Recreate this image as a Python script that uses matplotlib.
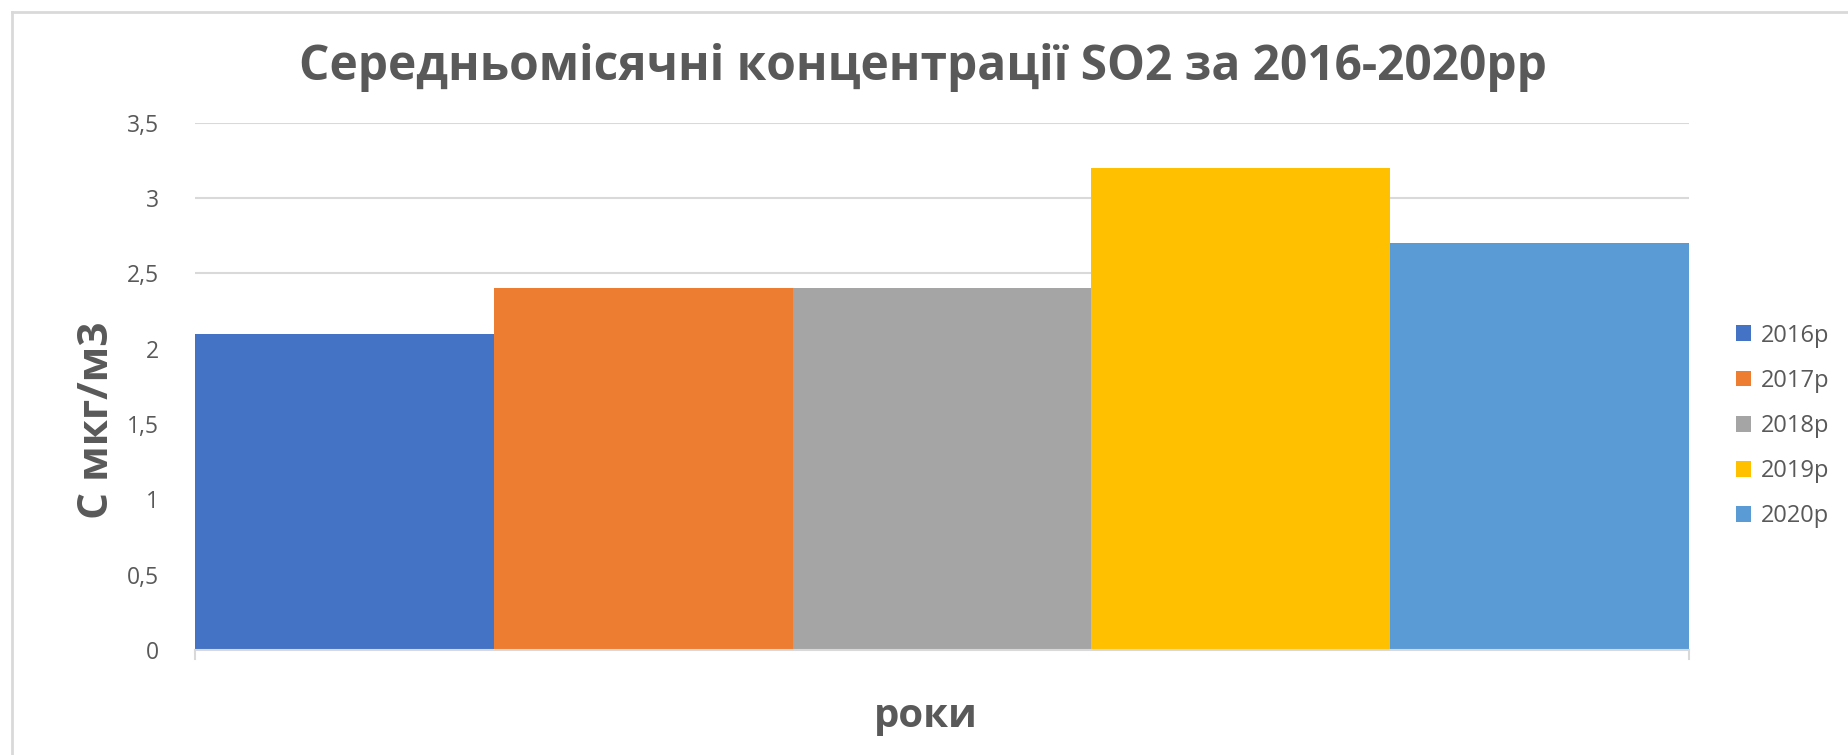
import matplotlib
matplotlib.use("Agg")
import matplotlib.pyplot as plt
from matplotlib.patches import Patch
from matplotlib.lines import Line2D

series = ["2016р", "2017р", "2018р", "2019р", "2020р"]
values = [2.1, 2.4, 2.4, 3.2, 2.7]
colors = ["#4472C4", "#ED7D31", "#A5A5A5", "#FFC000", "#5B9BD5"]
yticks = [0, 0.5, 1, 1.5, 2, 2.5, 3, 3.5]
ytick_labels = ["0", "0,5", "1", "1,5", "2", "2,5", "3", "3,5"]
title = "Середньомісячні концентрації SO2 за 2016-2020рр"
ylabel = "С мкг/м3"
xlabel = "роки"

plt.rcParams['font.family'] = ['Open Sans', 'DejaVu Sans']
W, H = 1849, 755
fig = plt.figure(figsize=(W / 100, H / 100), dpi=100)
ax = fig.add_axes([195 / W, 1 - 650 / H, (1689 - 195) / W, (650 - 122.5) / H])

x = list(range(len(series)))
ax.bar(x, values, width=1.0, color=colors, align='center', zorder=2)
ax.set_xlim(-0.5, len(series) - 0.5)
ax.set_ylim(0, 3.5)
ax.set_yticks(yticks)
ax.set_yticklabels(ytick_labels)
ax.set_xticks([])
ax.tick_params(axis='y', length=0, pad=26, labelsize=16.5, labelcolor='#595959')
ax.yaxis.grid(True, color='#D9D9D9', lw=1.5, zorder=0)
ax.set_axisbelow(True)
for s in ['top', 'right', 'left']:
    ax.spines[s].set_visible(False)
ax.spines['bottom'].set_color('#D9D9D9')
ax.spines['bottom'].set_linewidth(1.5)
# small end ticks on category axis
for xe in (-0.5, len(series) - 0.5):
    ax.add_line(Line2D([xe, xe], [0, -0.06], color='#D9D9D9', lw=1.5, clip_on=False))

fig.text(923 / W, 1 - 68 / H, title, ha='center', va='center', fontsize=34.5,
         fontweight='bold', color='#595959')
fig.text(98 / W, 1 - 420 / H, ylabel, ha='center', va='center', rotation=90,
         fontsize=30.5, fontweight='bold', color='#595959')
fig.text(926 / W, 1 - 717 / H, xlabel, ha='center', va='center', fontsize=29,
         fontweight='bold', color='#595959')

handles = [Patch(facecolor=c, edgecolor='none') for c in colors]
fig.legend(handles, series, loc='center left', bbox_to_anchor=(1724 / W, 1 - 426 / H),
           frameon=False, fontsize=17, labelcolor='#595959', handlelength=0.65,
           handleheight=0.65, handletextpad=0.4, labelspacing=0.9, borderpad=0)

# chart border (top and left visible)
fig.add_artist(Line2D([12 / W, 1], [1 - 12 / H, 1 - 12 / H], color='#D9D9D9', lw=2,
                      transform=fig.transFigure))
fig.add_artist(Line2D([12 / W, 12 / W], [0, 1 - 12 / H], color='#D9D9D9', lw=2,
                      transform=fig.transFigure))

fig.savefig("out.png", dpi=100)
